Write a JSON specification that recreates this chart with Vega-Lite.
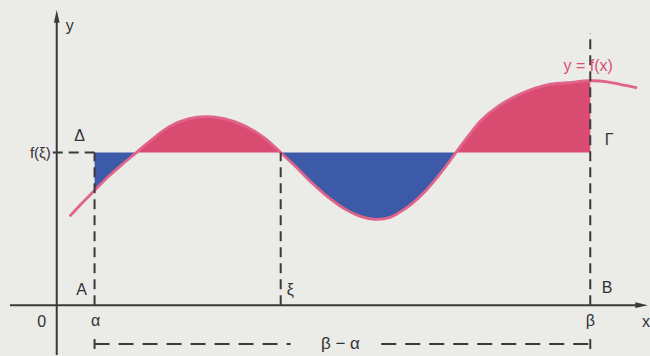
{
  "$schema": "https://vega.github.io/schema/vega-lite/v6.json",
  "width": 650,
  "height": 356,
  "autosize": {"type": "fit", "contains": "padding"},
  "padding": 0,
  "background": "#ebebe8",
  "config": {"view": {"stroke": null}},
  "datasets": {
    "curve": [
      {"x": 13, "y": 89}, {"x": 25, "y": 102}, {"x": 38, "y": 115}, {"x": 53, "y": 130},
      {"x": 68, "y": 143}, {"x": 80, "y": 153}, {"x": 93, "y": 164}, {"x": 113, "y": 179},
      {"x": 133, "y": 187}, {"x": 150, "y": 189}, {"x": 168, "y": 187}, {"x": 186, "y": 181},
      {"x": 201, "y": 173}, {"x": 212, "y": 165}, {"x": 225, "y": 153}, {"x": 240, "y": 139},
      {"x": 256, "y": 123}, {"x": 273, "y": 108}, {"x": 290, "y": 96}, {"x": 305, "y": 89},
      {"x": 320, "y": 86}, {"x": 335, "y": 88}, {"x": 346, "y": 94}, {"x": 356, "y": 101},
      {"x": 371, "y": 115}, {"x": 383, "y": 129}, {"x": 393, "y": 142}, {"x": 401, "y": 153},
      {"x": 413, "y": 169}, {"x": 426, "y": 185}, {"x": 443, "y": 199}, {"x": 460, "y": 209},
      {"x": 476, "y": 216}, {"x": 493, "y": 221}, {"x": 513, "y": 223}, {"x": 536, "y": 225},
      {"x": 553, "y": 224}, {"x": 568, "y": 221}, {"x": 583, "y": 218}
    ],
    "fill": [
      {"x": 38, "y": 115, "seg": "b1"}, {"x": 53, "y": 130, "seg": "b1"}, {"x": 68, "y": 143, "seg": "b1"}, {"x": 80, "y": 153, "seg": "b1"},
      {"x": 80, "y": 153, "seg": "p1"}, {"x": 93, "y": 164, "seg": "p1"}, {"x": 113, "y": 179, "seg": "p1"}, {"x": 133, "y": 187, "seg": "p1"},
      {"x": 150, "y": 189, "seg": "p1"}, {"x": 168, "y": 187, "seg": "p1"}, {"x": 186, "y": 181, "seg": "p1"}, {"x": 201, "y": 173, "seg": "p1"},
      {"x": 212, "y": 165, "seg": "p1"}, {"x": 225, "y": 153, "seg": "p1"},
      {"x": 225, "y": 153, "seg": "b2"}, {"x": 240, "y": 139, "seg": "b2"}, {"x": 256, "y": 123, "seg": "b2"}, {"x": 273, "y": 108, "seg": "b2"},
      {"x": 290, "y": 96, "seg": "b2"}, {"x": 305, "y": 89, "seg": "b2"}, {"x": 320, "y": 86, "seg": "b2"}, {"x": 335, "y": 88, "seg": "b2"},
      {"x": 346, "y": 94, "seg": "b2"}, {"x": 356, "y": 101, "seg": "b2"}, {"x": 371, "y": 115, "seg": "b2"}, {"x": 383, "y": 129, "seg": "b2"},
      {"x": 393, "y": 142, "seg": "b2"}, {"x": 401, "y": 153, "seg": "b2"},
      {"x": 401, "y": 153, "seg": "p2"}, {"x": 413, "y": 169, "seg": "p2"}, {"x": 426, "y": 185, "seg": "p2"}, {"x": 443, "y": 199, "seg": "p2"},
      {"x": 460, "y": 209, "seg": "p2"}, {"x": 476, "y": 216, "seg": "p2"}, {"x": 493, "y": 221, "seg": "p2"}, {"x": 513, "y": 223, "seg": "p2"},
      {"x": 536, "y": 225, "seg": "p2"}
    ],
    "rules": [
      {"x": -47, "y": 0, "x2": 585, "y2": 0, "kind": "solid"},
      {"x": 0, "y": -50, "x2": 0, "y2": 288, "kind": "solid"},
      {"x": 38, "y": 0, "x2": 38, "y2": 153, "kind": "dash"},
      {"x": 225, "y": 0, "x2": 225, "y2": 153, "kind": "dash"},
      {"x": 536, "y": 0, "x2": 536, "y2": 273, "kind": "dash"},
      {"x": -4, "y": 153, "x2": 38, "y2": 153, "kind": "dash"},
      {"x": 38, "y": -39, "x2": 235, "y2": -39, "kind": "dim"},
      {"x": 326, "y": -39, "x2": 536, "y2": -39, "kind": "dim"},
      {"x": 38, "y": -34, "x2": 38, "y2": -44, "kind": "solid"},
      {"x": 536, "y": -34, "x2": 536, "y2": -44, "kind": "solid"}
    ],
    "arrows": [
      {"x": 0, "y": 289, "dir": "up"},
      {"x": 587, "y": 0, "dir": "right"}
    ],
    "labels": [
      {"x": 9, "y": 280, "text": "y", "role": "left"},
      {"x": -6, "y": 153, "text": "f(ξ)", "role": "right"},
      {"x": 23, "y": 170, "text": "Δ", "role": "center"},
      {"x": 25, "y": 15, "text": "A", "role": "center"},
      {"x": -15, "y": -17, "text": "0", "role": "center"},
      {"x": 39, "y": -16, "text": "α", "role": "center"},
      {"x": 231, "y": 15, "text": "ξ", "role": "left"},
      {"x": 536, "y": -16, "text": "β", "role": "center"},
      {"x": 553, "y": 17, "text": "B", "role": "center"},
      {"x": 555, "y": 166, "text": "Γ", "role": "center"},
      {"x": 588, "y": -17, "text": "x", "role": "left"},
      {"x": 285, "y": -39, "text": "β − α", "role": "big"},
      {"x": 534, "y": 240, "text": "y = f(x)", "role": "pink"}
    ]
  },
  "encoding": {
    "x": {"field": "x", "type": "quantitative", "scale": {"domain": [-57, 593], "nice": false, "zero": false}, "axis": null},
    "y": {"field": "y", "type": "quantitative", "scale": {"domain": [-50, 306], "nice": false, "zero": false}, "axis": null}
  },
  "layer": [
    {
      "data": {"name": "fill"},
      "mark": {"type": "area", "opacity": 1, "interpolate": "catmull-rom"},
      "encoding": {
        "y": {"field": "y", "type": "quantitative", "stack": null, "scale": {"domain": [-50, 306], "nice": false, "zero": false}, "axis": null},
        "y2": {"datum": 153},
        "detail": {"field": "seg"},
        "color": {"field": "seg", "type": "nominal", "legend": null,
          "scale": {"domain": ["b1", "p1", "b2", "p2"], "range": ["#3c5aa8", "#d94b70", "#3c5aa8", "#d94b70"]}}
      }
    },
    {
      "data": {"name": "curve"},
      "mark": {"type": "line", "color": "#e0648a", "strokeWidth": 2.8, "interpolate": "catmull-rom"},
      "encoding": {}
    },
    {
      "data": {"name": "rules"},
      "transform": [{"filter": "datum.kind === 'solid'"}],
      "mark": {"type": "rule", "color": "#3a3a3a", "strokeWidth": 2},
      "encoding": {"x2": {"field": "x2"}, "y2": {"field": "y2"}}
    },
    {
      "data": {"name": "rules"},
      "transform": [{"filter": "datum.kind === 'dash'"}],
      "mark": {"type": "rule", "color": "#3a3a3a", "strokeWidth": 2, "strokeDash": [10, 6]},
      "encoding": {"x2": {"field": "x2"}, "y2": {"field": "y2"}}
    },
    {
      "data": {"name": "rules"},
      "transform": [{"filter": "datum.kind === 'dim'"}],
      "mark": {"type": "rule", "color": "#3a3a3a", "strokeWidth": 2, "strokeDash": [15, 9]},
      "encoding": {"x2": {"field": "x2"}, "y2": {"field": "y2"}}
    },
    {
      "data": {"name": "arrows"},
      "transform": [{"filter": "datum.dir === 'up'"}],
      "mark": {"type": "point", "shape": "M-0.5,1L0,-1.2L0.5,1Z", "filled": true, "color": "#3a3a3a", "size": 130, "opacity": 1}
    },
    {
      "data": {"name": "arrows"},
      "transform": [{"filter": "datum.dir === 'right'"}],
      "mark": {"type": "point", "shape": "M-1,-0.5L1.2,0L-1,0.5Z", "filled": true, "color": "#3a3a3a", "size": 130, "opacity": 1}
    },
    {
      "data": {"name": "labels"},
      "transform": [{"filter": "datum.role === 'left'"}],
      "mark": {"type": "text", "align": "left", "baseline": "middle", "font": "Liberation Sans", "fontSize": 16, "color": "#333333"},
      "encoding": {"text": {"field": "text"}}
    },
    {
      "data": {"name": "labels"},
      "transform": [{"filter": "datum.role === 'right'"}],
      "mark": {"type": "text", "align": "right", "baseline": "middle", "font": "Liberation Sans", "fontSize": 15, "color": "#333333"},
      "encoding": {"text": {"field": "text"}}
    },
    {
      "data": {"name": "labels"},
      "transform": [{"filter": "datum.role === 'center'"}],
      "mark": {"type": "text", "align": "center", "baseline": "middle", "font": "Liberation Sans", "fontSize": 16, "color": "#333333"},
      "encoding": {"text": {"field": "text"}}
    },
    {
      "data": {"name": "labels"},
      "transform": [{"filter": "datum.role === 'big'"}],
      "mark": {"type": "text", "align": "center", "baseline": "middle", "font": "Liberation Sans", "fontSize": 17, "color": "#333333"},
      "encoding": {"text": {"field": "text"}}
    },
    {
      "data": {"name": "labels"},
      "transform": [{"filter": "datum.role === 'pink'"}],
      "mark": {"type": "text", "align": "center", "baseline": "middle", "font": "Liberation Sans", "fontSize": 16, "color": "#d9506f"},
      "encoding": {"text": {"field": "text"}}
    }
  ]
}
